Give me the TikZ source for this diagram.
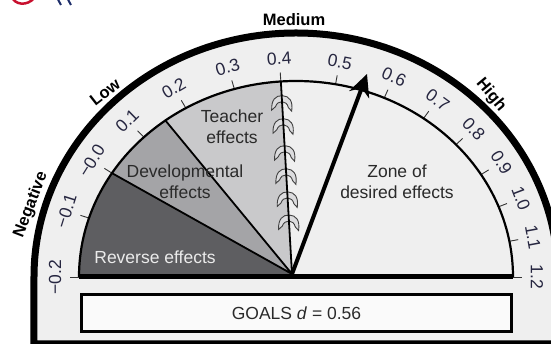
\documentclass[tikz,border=0pt]{standalone}
\usepackage{fontspec}
\setmainfont{Liberation Sans}
\usetikzlibrary{arrows.meta}
\definecolor{bandgray}{HTML}{EFEFEF}
\definecolor{revgray}{HTML}{5E5E61}
\definecolor{devgray}{HTML}{A4A4A7}
\definecolor{teachgray}{HTML}{C9C9CB}
\definecolor{hookgray}{HTML}{DCDCDE}
\definecolor{numblue}{HTML}{262640}
\definecolor{txtgray}{HTML}{2A2A2A}
\definecolor{logored}{HTML}{C8102E}
\definecolor{logoblue}{HTML}{1F2F6B}
\tikzset{
    lbl/.style={font=\fontsize{17.5}{20.5}\selectfont, align=center, text=txtgray},
    scalenum/.style={font=\fontsize{17.5}{19}\selectfont, text=numblue, inner sep=0pt},
    zonename/.style={font=\bfseries\fontsize{16.5}{18}\selectfont, inner sep=0pt},
    tickmark/.style={line width=0.9pt, draw=black!80},
    sectorline/.style={line width=1.8pt},
    hookpic/.pic={
        \filldraw[fill=hookgray, draw=black!75, line width=0.9pt]
        (-10,-8) .. controls (-11,2) and (-7,7) .. (0,7) .. controls (7,7) and (11,2) .. (10,-8)
        -- (6.5,-4.5) .. controls (5.5,-1) and (3,1) .. (0,1) .. controls (-3,1) and (-5.5,-1) .. (-6.5,-4.5) -- cycle;
    }
}

\begin{document}
\begin{tikzpicture}[x=1pt,y=1pt] %TODO
        \useasboundingbox (-296,-67) rectangle (255,277);
        \clip (-296,-67) rectangle (255,277);

        \draw[logored, line width=2.5pt] (-285,282) .. controls (-282,271) and (-268,271) .. (-262,279);
        \draw[logoblue, line width=2pt] (-238,277.5) -- (-235,272) (-228,277.5) -- (-225,272);

        \draw[line width=7pt, fill=bandgray] (-262,-67) -- (-262,0)
        arc[start angle=180, end angle=0, x radius=262pt, y radius=244pt] -- (262,-67) -- cycle;

        \coordinate (hub) at (-4,3);
        \coordinate (m0) at (-217,0);
        \coordinate (m1) at ({217*cos(148)},{196*sin(148)});
        \coordinate (m2) at ({217*cos(127)},{196*sin(127)});
        \coordinate (m3) at ({217*cos(94)},{196*sin(94)});
        \coordinate (m4) at (217,0);
        \coordinate (tip) at (71,203);

        \fill[revgray] (hub) -- (m0) arc[start angle=180, end angle=148, x radius=217pt, y radius=196pt] -- cycle;
        \fill[devgray] (hub) -- (m1) arc[start angle=148, end angle=127, x radius=217pt, y radius=196pt] -- cycle;
        \fill[teachgray] (hub) -- (m2) arc[start angle=127, end angle=94, x radius=217pt, y radius=196pt] -- cycle;

        \foreach \v/\a in {−0.2/180, −0.1/162.5, −0.0/148, 0.1/134.5, 0.2/120.5, 0.3/106.5, 0.4/94,
            0.5/79.5, 0.6/66, 0.7/54, 0.8/42.5, 0.9/31.5, 1.0/21, 1.1/10.5, 1.2/0}{
            \draw[tickmark] ({217*cos(\a)},{196*sin(\a)}) -- ++(\a:9);
            \node[scalenum, rotate=\a-90] at ({241*cos(\a)},{219*sin(\a)}) {\v};
        }

        \foreach \p in {0.27,0.39,0.51,0.63,0.77,0.89}{
            \path (hub) -- (m3) coordinate[pos=\p] (h);
            \pic[rotate=-3] at (h) {hookpic};
        }

        \draw[line width=2.2pt] (m0) arc[start angle=180, end angle=0, x radius=217pt, y radius=196pt];
        \draw[sectorline] (hub) -- (m1) (hub) -- (m2) (hub) -- (m3);
        \draw[line width=5pt] (m0) -- (m4);
        \draw[line width=4pt, -{Stealth[length=22pt, width=21pt, inset=7pt]}] (hub) -- (tip);

        \node[lbl, text=white!92!black] (rev) at (-141,20) {Reverse effects};
        \node[lbl] (dev) at (-111,95) {Developmental\\effects};
        \node[lbl] (teach) at (-64,150) {Teacher\\effects};
        \node[lbl] (zone) at (101,95) {Zone of\\desired effects};

        \node[lbl, draw=black, line width=3pt, fill=white!98!black, minimum width=430pt,
            minimum height=37pt, inner sep=0pt] (goals) at (0.5,-36) {GOALS \textit{d} = 0.56};

        \node[zonename, rotate=38] (low) at (-191,185) {Low};
        \node[zonename] (medium) at (-2,257) {Medium};
        \node[zonename, rotate=-50] (high) at (195,182) {High};
        \node[zonename, rotate=69] (neg) at (-265,72) {Negative};
\end{tikzpicture}
\end{document}
